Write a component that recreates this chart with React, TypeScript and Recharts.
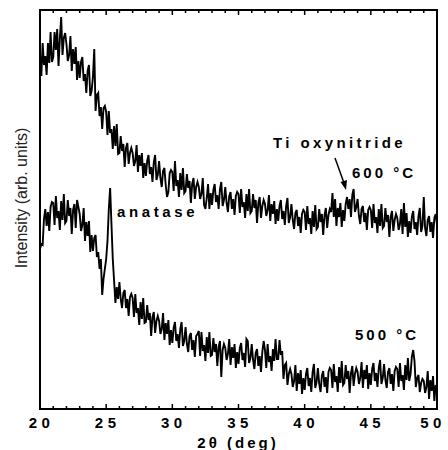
import React from "react";
import { LineChart, Line, XAxis, YAxis, Customized } from "recharts";

// 2θ grid: 20° to 50° in 0.1° steps (301 points)
const thetaStart = 20;
const thetaStep = 0.1;

// Intensity (arb. units), 600 °C film (upper, offset trace) — one row per degree
const intensity600 = [
  355, 333, 366, 344, 353, 334, 366, 346, 377, 347,
  352, 377, 359, 380, 343, 370, 392, 354, 371, 376,
  365, 348, 354, 373, 338, 360, 345, 362, 329, 348,
  331, 347, 352, 328, 335, 316, 338, 344, 313, 318,
  332, 360, 298, 314, 316, 293, 302, 280, 301, 303,
  297, 274, 298, 276, 280, 260, 283, 263, 285, 255,
  256, 273, 258, 265, 242, 261, 266, 245, 256, 261,
  256, 243, 248, 264, 237, 254, 243, 256, 231, 246,
  233, 248, 254, 235, 242, 227, 247, 254, 229, 234,
  248, 231, 222, 238, 241, 224, 212, 217, 236, 239,
  237, 218, 248, 223, 229, 212, 236, 219, 241, 216,
  218, 235, 221, 228, 206, 225, 231, 210, 222, 227,
  222, 210, 215, 231, 204, 200, 211, 225, 200, 216,
  204, 219, 225, 207, 214, 200, 220, 227, 203, 209,
  222, 206, 197, 213, 217, 200, 210, 194, 213, 217,
  215, 196, 220, 202, 207, 191, 215, 198, 220, 196,
  198, 215, 201, 209, 186, 206, 212, 191, 203, 209,
  205, 193, 199, 214, 188, 205, 195, 208, 185, 200,
  188, 203, 209, 190, 198, 184, 203, 211, 186, 192,
  205, 189, 180, 196, 199, 183, 192, 176, 195, 199,
  197, 179, 203, 185, 191, 175, 198, 182, 204, 180,
  182, 200, 187, 195, 174, 194, 201, 181, 194, 200,
  197, 216, 192, 210, 183, 201, 192, 206, 182, 199,
  188, 205, 212, 200, 210, 192, 214, 220, 197, 202,
  210, 193, 185, 200, 203, 187, 196, 179, 199, 202,
  199, 181, 205, 186, 192, 176, 200, 183, 205, 181,
  183, 201, 187, 194, 172, 192, 198, 178, 189, 195,
  191, 179, 185, 200, 175, 206, 182, 196, 172, 188,
  176, 192, 198, 180, 187, 174, 193, 201, 177, 183,
  212, 181, 173, 189, 193, 177, 187, 171, 191, 195,
  184,
];

// Intensity (arb. units), 500 °C film (lower trace) — one row per degree
const intensity500 = [
  160, 165, 164, 190, 200, 183, 197, 178, 202, 207,
  206, 184, 213, 191, 198, 179, 208, 189, 215, 186,
  188, 209, 193, 201, 175, 199, 205, 181, 209, 202,
  195, 178, 184, 201, 168, 187, 173, 188, 157, 174,
  158, 171, 174, 152, 157, 140, 150, 114, 130, 140,
  150, 168, 200, 221, 185, 150, 128, 106, 122, 110,
  127, 110, 101, 116, 119, 101, 110, 93, 112, 115,
  111, 92, 115, 96, 101, 84, 107, 90, 111, 86,
  87, 104, 89, 96, 73, 92, 97, 76, 88, 93,
  88, 75, 80, 96, 69, 86, 75, 89, 64, 79,
  66, 81, 87, 68, 75, 61, 80, 87, 63, 68,
  82, 65, 57, 73, 76, 59, 69, 52, 73, 75,
  78, 53, 77, 58, 64, 48, 72, 56, 77, 53,
  54, 71, 57, 65, 43, 62, 68, 32, 59, 65,
  61, 49, 55, 70, 44, 62, 51, 65, 41, 57,
  45, 61, 66, 49, 56, 42, 70, 68, 46, 51,
  65, 49, 40, 56, 60, 43, 53, 37, 57, 68,
  59, 41, 65, 47, 53, 38, 60, 48, 70, 50,
  50, 69, 54, 58, 30, 44, 46, 24, 35, 40,
  35, 22, 28, 44, 18, 36, 25, 39, 15, 31,
  19, 35, 41, 23, 31, 17, 37, 45, 21, 27,
  41, 25, 17, 33, 38, 22, 32, 16, 37, 41,
  39, 21, 45, 27, 33, 17, 42, 26, 48, 24,
  26, 44, 30, 38, 16, 36, 43, 23, 35, 41,
  37, 25, 31, 47, 21, 39, 30, 44, 20, 36,
  24, 40, 46, 28, 36, 22, 41, 49, 25, 31,
  45, 29, 21, 37, 41, 25, 35, 18, 38, 42,
  40, 22, 46, 28, 34, 19, 44, 29, 51, 28,
  35, 52, 59, 48, 22, 31, 34, 17, 26, 30,
  28, 16, 22, 38, 10, 29, 18, 33, 8, 24,
  20,
];

const majorTicks = [20, 25, 30, 35, 40, 45, 50];
const allTicks = [
  20, 21, 22, 23, 24, 25, 26, 27, 28, 29, 30, 31, 32, 33, 34, 35,
  36, 37, 38, 39, 40, 41, 42, 43, 44, 45, 46, 47, 48, 49, 50,
];
const yMax = 399;

const chartData = intensity600.map((v, i) => ({
  theta: +(thetaStart + i * thetaStep).toFixed(1),
  t600: v,
  t500: intensity500[i],
}));

const FONT = "'Liberation Sans', Arial, sans-serif";

// plot frame (matches chart margins below)
const PL = 40;
const PR = 437;
const PT = 10;
const PB = 409;
const tickX = (t: number) => PL + ((t - 20) / 30) * (PR - PL);

const BottomTick = (props: any) => {
  const { x, y, payload } = props;
  const v = payload.value;
  if (!majorTicks.includes(v)) return <g />;
  return (
    <text
      x={v === 50 ? x - 4 : x + 1.5}
      y={y + 19}
      textAnchor="middle"
      fontFamily={FONT}
      fontWeight="bold"
      fontSize={15}
      letterSpacing={4.5}
      fill="#000"
    >
      {v}
    </text>
  );
};

const Annotations = () => (
  <g fontFamily={FONT} fontWeight="bold" fontSize={15} fill="#000">
    <rect x={PL} y={PT} width={PR - PL} height={PB - PT} fill="none" stroke="#000" strokeWidth={2} />
    {allTicks.map((t) => {
      const len = majorTicks.includes(t) ? 5 : 3;
      const x = tickX(t);
      return (
        <g key={t}>
          <line x1={x} y1={PB} x2={x} y2={PB - len} stroke="#000" strokeWidth={1.5} />
          <line x1={x} y1={PT} x2={x} y2={PT + len} stroke="#000" strokeWidth={1.5} />
        </g>
      );
    })}
    <text x={117} y={217} letterSpacing={3.6}>anatase</text>
    <text x={273} y={148} letterSpacing={3.4}>Ti oxynitride</text>
    <text x={352} y={178} letterSpacing={3}>600 °C</text>
    <text x={355} y={340} letterSpacing={3}>500 °C</text>
    <line x1={335} y1={158} x2={344} y2={183} stroke="#000" strokeWidth={1.5} />
    <polygon points="346,190 340.5,182 347,180" fill="#000" />
    <text x={238} y={448} textAnchor="middle" letterSpacing={3}>
      2θ (deg)
    </text>
    <text
      x={0}
      y={0}
      transform="translate(27,198) rotate(-90)"
      textAnchor="middle"
      fontWeight="normal"
      fontSize={16}
      fill="#222"
    >
      Intensity (arb. units)
    </text>
  </g>
);

export default function App() {
  return (
    <div style={{ position: "absolute", left: 0, top: 0, background: "#fff" }}>
      <LineChart
        width={448}
        height={450}
        data={chartData}
        margin={{ top: 10, right: 11, left: 39, bottom: 40 }}
      >
        <XAxis
          dataKey="theta"
          type="number"
          domain={[20, 50]}
          ticks={allTicks}
          interval={0}
          height={1}
          tickSize={0}
          tickMargin={0}
          tickLine={false}
          tick={<BottomTick />}
          axisLine={{ stroke: "#000", strokeWidth: 2 }}
        />
        <YAxis
          type="number"
          domain={[0, yMax]}
          width={1}
          tick={false}
          tickLine={false}
          axisLine={{ stroke: "#000", strokeWidth: 2 }}
        />
        <Line
          dataKey="t600"
          stroke="#000"
          strokeWidth={1.9}
          dot={false}
          isAnimationActive={false}
        />
        <Line
          dataKey="t500"
          stroke="#000"
          strokeWidth={1.9}
          dot={false}
          isAnimationActive={false}
        />
        <Customized component={Annotations} />
      </LineChart>
    </div>
  );
}
